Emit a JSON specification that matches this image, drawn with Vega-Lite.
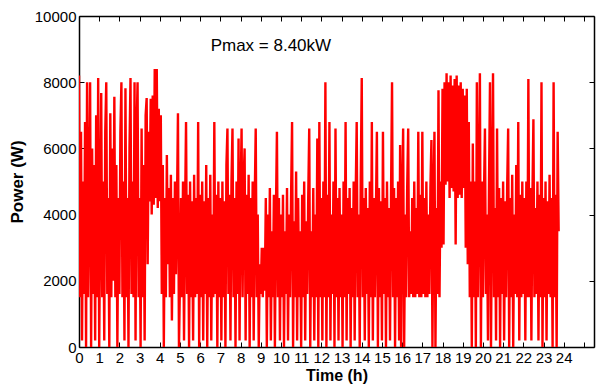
{
"$schema": "https://vega.github.io/schema/vega-lite/v6.json",
"autosize": "none",
"width": 515,
"height": 331,
"padding": {"left": 79, "top": 16, "right": 4, "bottom": 45},
"background": "white",
"config": {"view": {"stroke": null}, "axis": {"grid": false, "domainColor": "black", "domainWidth": 1.5, "tickColor": "black", "tickSize": -5, "tickWidth": 1, "labelFont": "Liberation Sans", "labelFontSize": 15, "labelColor": "black", "titleFont": "Liberation Sans", "titleFontSize": 16, "titleFontWeight": "bold", "titleColor": "black"}},
"datasets": {
"power": [
{"t":0.00,"p":8200},{"t":0.05,"p":1500},{"t":0.10,"p":6500},{"t":0.15,"p":200},{"t":0.20,"p":5000},{"t":0.25,"p":1600},{"t":0.30,"p":6800},{"t":0.35,"p":0},{"t":0.40,"p":8000},{"t":0.45,"p":1500},{"t":0.50,"p":4500},{"t":0.55,"p":8000},{"t":0.60,"p":0},{"t":0.65,"p":6000},{"t":0.70,"p":1600},{"t":0.75,"p":5500},{"t":0.80,"p":200},{"t":0.85,"p":7000},{"t":0.90,"p":1500},{"t":0.95,"p":8130},
{"t":1.00,"p":0},{"t":1.05,"p":4000},{"t":1.10,"p":7670},{"t":1.15,"p":1500},{"t":1.20,"p":5000},{"t":1.25,"p":200},{"t":1.30,"p":6500},{"t":1.35,"p":8000},{"t":1.40,"p":1600},{"t":1.45,"p":4500},{"t":1.50,"p":0},{"t":1.55,"p":7060},{"t":1.60,"p":1500},{"t":1.65,"p":6000},{"t":1.70,"p":2000},{"t":1.75,"p":7560},{"t":1.80,"p":1500},{"t":1.85,"p":5500},{"t":1.90,"p":0},{"t":1.95,"p":4500},
{"t":2.00,"p":1600},{"t":2.05,"p":6500},{"t":2.10,"p":8000},{"t":2.15,"p":1500},{"t":2.20,"p":5000},{"t":2.25,"p":200},{"t":2.30,"p":7820},{"t":2.35,"p":1500},{"t":2.40,"p":4500},{"t":2.45,"p":0},{"t":2.50,"p":6000},{"t":2.55,"p":8130},{"t":2.60,"p":1600},{"t":2.65,"p":5000},{"t":2.70,"p":1500},{"t":2.75,"p":8000},{"t":2.80,"p":200},{"t":2.85,"p":6500},{"t":2.90,"p":8000},{"t":2.95,"p":1500},
{"t":3.00,"p":4500},{"t":3.05,"p":0},{"t":3.10,"p":6600},{"t":3.15,"p":1500},{"t":3.20,"p":5500},{"t":3.25,"p":200},{"t":3.30,"p":7000},{"t":3.35,"p":7520},{"t":3.40,"p":2500},{"t":3.45,"p":6500},{"t":3.50,"p":4400},{"t":3.55,"p":7500},{"t":3.60,"p":4000},{"t":3.65,"p":7600},{"t":3.70,"p":4300},{"t":3.75,"p":8400},{"t":3.80,"p":4500},{"t":3.85,"p":8400},{"t":3.90,"p":4200},{"t":3.95,"p":7200},
{"t":4.00,"p":4400},{"t":4.05,"p":7000},{"t":4.10,"p":1600},{"t":4.15,"p":5500},{"t":4.20,"p":0},{"t":4.25,"p":4500},{"t":4.30,"p":1500},{"t":4.35,"p":5800},{"t":4.40,"p":2500},{"t":4.45,"p":4800},{"t":4.50,"p":1500},{"t":4.55,"p":5200},{"t":4.60,"p":800},{"t":4.65,"p":4500},{"t":4.70,"p":1600},{"t":4.75,"p":5000},{"t":4.80,"p":2200},{"t":4.85,"p":4200},{"t":4.90,"p":7060},{"t":4.95,"p":0},
{"t":5.00,"p":2000},{"t":5.05,"p":4500},{"t":5.10,"p":1500},{"t":5.15,"p":5000},{"t":5.20,"p":200},{"t":5.25,"p":4000},{"t":5.30,"p":6800},{"t":5.35,"p":1600},{"t":5.40,"p":4600},{"t":5.45,"p":0},{"t":5.50,"p":5000},{"t":5.55,"p":1500},{"t":5.60,"p":4400},{"t":5.65,"p":200},{"t":5.70,"p":5200},{"t":5.75,"p":1500},{"t":5.80,"p":4500},{"t":5.85,"p":1600},{"t":5.90,"p":6800},{"t":5.95,"p":0},
{"t":6.00,"p":4600},{"t":6.05,"p":1500},{"t":6.10,"p":5000},{"t":6.15,"p":200},{"t":6.20,"p":4400},{"t":6.25,"p":1600},{"t":6.30,"p":5500},{"t":6.35,"p":0},{"t":6.40,"p":4500},{"t":6.45,"p":1500},{"t":6.50,"p":5200},{"t":6.55,"p":200},{"t":6.60,"p":4000},{"t":6.65,"p":1500},{"t":6.70,"p":6800},{"t":6.75,"p":1600},{"t":6.80,"p":4600},{"t":6.85,"p":0},{"t":6.90,"p":5000},{"t":6.95,"p":1500},
{"t":7.00,"p":4500},{"t":7.05,"p":200},{"t":7.10,"p":5000},{"t":7.15,"p":1500},{"t":7.20,"p":4400},{"t":7.25,"p":0},{"t":7.30,"p":5500},{"t":7.35,"p":6600},{"t":7.40,"p":1600},{"t":7.45,"p":4600},{"t":7.50,"p":200},{"t":7.55,"p":5000},{"t":7.60,"p":6600},{"t":7.65,"p":1500},{"t":7.70,"p":4500},{"t":7.75,"p":0},{"t":7.80,"p":5000},{"t":7.85,"p":1600},{"t":7.90,"p":6300},{"t":7.95,"p":200},
{"t":8.00,"p":4500},{"t":8.05,"p":6600},{"t":8.10,"p":1500},{"t":8.15,"p":5000},{"t":8.20,"p":6000},{"t":8.25,"p":200},{"t":8.30,"p":4600},{"t":8.35,"p":1600},{"t":8.40,"p":5200},{"t":8.45,"p":0},{"t":8.50,"p":4500},{"t":8.55,"p":1500},{"t":8.60,"p":5000},{"t":8.65,"p":200},{"t":8.70,"p":4400},{"t":8.75,"p":6600},{"t":8.80,"p":1500},{"t":8.85,"p":4000},{"t":8.90,"p":0},{"t":8.95,"p":2500},
{"t":9.00,"p":1600},{"t":9.05,"p":3000},{"t":9.10,"p":1500},{"t":9.15,"p":3000},{"t":9.20,"p":1700},{"t":9.25,"p":4500},{"t":9.30,"p":0},{"t":9.35,"p":4000},{"t":9.40,"p":1500},{"t":9.45,"p":4800},{"t":9.50,"p":200},{"t":9.55,"p":3500},{"t":9.60,"p":1500},{"t":9.65,"p":4600},{"t":9.70,"p":0},{"t":9.75,"p":4000},{"t":9.80,"p":6500},{"t":9.85,"p":1500},{"t":9.90,"p":4500},{"t":9.95,"p":200},
{"t":10.00,"p":4000},{"t":10.05,"p":1500},{"t":10.10,"p":4600},{"t":10.15,"p":0},{"t":10.20,"p":3500},{"t":10.25,"p":1600},{"t":10.30,"p":4800},{"t":10.35,"p":200},{"t":10.40,"p":4000},{"t":10.45,"p":1500},{"t":10.50,"p":4500},{"t":10.55,"p":6800},{"t":10.60,"p":0},{"t":10.65,"p":3800},{"t":10.70,"p":1500},{"t":10.75,"p":5300},{"t":10.80,"p":200},{"t":10.85,"p":4500},{"t":10.90,"p":1500},{"t":10.95,"p":3500},
{"t":11.00,"p":0},{"t":11.05,"p":4600},{"t":11.10,"p":1500},{"t":11.15,"p":5000},{"t":11.20,"p":200},{"t":11.25,"p":3800},{"t":11.30,"p":1600},{"t":11.35,"p":4500},{"t":11.40,"p":6600},{"t":11.45,"p":0},{"t":11.50,"p":3500},{"t":11.55,"p":1500},{"t":11.60,"p":4800},{"t":11.65,"p":200},{"t":11.70,"p":4000},{"t":11.75,"p":1500},{"t":11.80,"p":6300},{"t":11.85,"p":0},{"t":11.90,"p":6800},{"t":11.95,"p":1500},
{"t":12.00,"p":4500},{"t":12.05,"p":200},{"t":12.10,"p":5000},{"t":12.15,"p":1500},{"t":12.20,"p":8000},{"t":12.25,"p":0},{"t":12.30,"p":4600},{"t":12.35,"p":1500},{"t":12.40,"p":6800},{"t":12.45,"p":200},{"t":12.50,"p":4000},{"t":12.55,"p":1600},{"t":12.60,"p":5000},{"t":12.65,"p":0},{"t":12.70,"p":6600},{"t":12.75,"p":1500},{"t":12.80,"p":4500},{"t":12.85,"p":200},{"t":12.90,"p":4800},{"t":12.95,"p":1500},
{"t":13.00,"p":4000},{"t":13.05,"p":0},{"t":13.10,"p":5000},{"t":13.15,"p":1500},{"t":13.20,"p":6800},{"t":13.25,"p":200},{"t":13.30,"p":4500},{"t":13.35,"p":1600},{"t":13.40,"p":4800},{"t":13.45,"p":0},{"t":13.50,"p":4200},{"t":13.55,"p":1500},{"t":13.60,"p":5000},{"t":13.65,"p":200},{"t":13.70,"p":4600},{"t":13.75,"p":6800},{"t":13.80,"p":1500},{"t":13.85,"p":4000},{"t":13.90,"p":0},{"t":13.95,"p":5000},
{"t":14.00,"p":8130},{"t":14.05,"p":1500},{"t":14.10,"p":4500},{"t":14.15,"p":200},{"t":14.20,"p":4800},{"t":14.25,"p":1600},{"t":14.30,"p":4200},{"t":14.35,"p":0},{"t":14.40,"p":5000},{"t":14.45,"p":1500},{"t":14.50,"p":6800},{"t":14.55,"p":200},{"t":14.60,"p":4500},{"t":14.65,"p":1500},{"t":14.70,"p":4000},{"t":14.75,"p":6500},{"t":14.80,"p":0},{"t":14.85,"p":4800},{"t":14.90,"p":1500},{"t":14.95,"p":4400},
{"t":15.00,"p":200},{"t":15.05,"p":6500},{"t":15.10,"p":1600},{"t":15.15,"p":4500},{"t":15.20,"p":0},{"t":15.25,"p":5000},{"t":15.30,"p":1500},{"t":15.35,"p":4200},{"t":15.40,"p":200},{"t":15.45,"p":4600},{"t":15.50,"p":8000},{"t":15.55,"p":1500},{"t":15.60,"p":4800},{"t":15.65,"p":0},{"t":15.70,"p":4500},{"t":15.75,"p":1500},{"t":15.80,"p":5000},{"t":15.85,"p":200},{"t":15.90,"p":6100},{"t":15.95,"p":0},
{"t":16.00,"p":4500},{"t":16.05,"p":6600},{"t":16.10,"p":0},{"t":16.15,"p":4000},{"t":16.20,"p":1500},{"t":16.25,"p":4800},{"t":16.30,"p":6600},{"t":16.35,"p":1500},{"t":16.40,"p":3500},{"t":16.45,"p":1600},{"t":16.50,"p":4500},{"t":16.55,"p":1500},{"t":16.60,"p":5000},{"t":16.65,"p":1500},{"t":16.70,"p":4200},{"t":16.75,"p":1600},{"t":16.80,"p":6500},{"t":16.85,"p":1500},{"t":16.90,"p":4600},{"t":16.95,"p":1500},
{"t":17.00,"p":6500},{"t":17.05,"p":1600},{"t":17.10,"p":4500},{"t":17.15,"p":1500},{"t":17.20,"p":5000},{"t":17.25,"p":1500},{"t":17.30,"p":4000},{"t":17.35,"p":1600},{"t":17.40,"p":4800},{"t":17.45,"p":6250},{"t":17.50,"p":0},{"t":17.55,"p":4500},{"t":17.60,"p":6500},{"t":17.65,"p":0},{"t":17.70,"p":4200},{"t":17.75,"p":1600},{"t":17.80,"p":7760},{"t":17.85,"p":1500},{"t":17.90,"p":5000},{"t":17.95,"p":3000},
{"t":18.00,"p":7800},{"t":18.05,"p":3100},{"t":18.10,"p":8000},{"t":18.15,"p":4900},{"t":18.20,"p":8270},{"t":18.25,"p":5000},{"t":18.30,"p":8000},{"t":18.35,"p":4500},{"t":18.40,"p":8200},{"t":18.45,"p":4800},{"t":18.50,"p":7900},{"t":18.55,"p":4700},{"t":18.60,"p":8100},{"t":18.65,"p":3100},{"t":18.70,"p":8200},{"t":18.75,"p":4500},{"t":18.80,"p":7900},{"t":18.85,"p":4600},{"t":18.90,"p":8000},{"t":18.95,"p":4500},
{"t":19.00,"p":7800},{"t":19.05,"p":4800},{"t":19.10,"p":7600},{"t":19.15,"p":3000},{"t":19.20,"p":7800},{"t":19.25,"p":2500},{"t":19.30,"p":6800},{"t":19.35,"p":1500},{"t":19.40,"p":5000},{"t":19.45,"p":0},{"t":19.50,"p":6150},{"t":19.55,"p":1500},{"t":19.60,"p":5000},{"t":19.65,"p":0},{"t":19.70,"p":8000},{"t":19.75,"p":1500},{"t":19.80,"p":4500},{"t":19.85,"p":8270},{"t":19.90,"p":0},{"t":19.95,"p":5000},
{"t":20.00,"p":1500},{"t":20.05,"p":4500},{"t":20.10,"p":6600},{"t":20.15,"p":1600},{"t":20.20,"p":4000},{"t":20.25,"p":200},{"t":20.30,"p":4800},{"t":20.35,"p":8000},{"t":20.40,"p":0},{"t":20.45,"p":4500},{"t":20.50,"p":8270},{"t":20.55,"p":1500},{"t":20.60,"p":4200},{"t":20.65,"p":200},{"t":20.70,"p":6600},{"t":20.75,"p":1500},{"t":20.80,"p":4800},{"t":20.85,"p":0},{"t":20.90,"p":4500},{"t":20.95,"p":1600},
{"t":21.00,"p":5000},{"t":21.05,"p":200},{"t":21.10,"p":4400},{"t":21.15,"p":1500},{"t":21.20,"p":4800},{"t":21.25,"p":6600},{"t":21.30,"p":0},{"t":21.35,"p":4500},{"t":21.40,"p":1500},{"t":21.45,"p":5200},{"t":21.50,"p":0},{"t":21.55,"p":4000},{"t":21.60,"p":1600},{"t":21.65,"p":5500},{"t":21.70,"p":1500},{"t":21.75,"p":6800},{"t":21.80,"p":200},{"t":21.85,"p":4600},{"t":21.90,"p":1500},{"t":21.95,"p":5000},
{"t":22.00,"p":1600},{"t":22.05,"p":4500},{"t":22.10,"p":200},{"t":22.15,"p":5000},{"t":22.20,"p":1500},{"t":22.25,"p":8100},{"t":22.30,"p":1500},{"t":22.35,"p":4800},{"t":22.40,"p":200},{"t":22.45,"p":4500},{"t":22.50,"p":6880},{"t":22.55,"p":1500},{"t":22.60,"p":4200},{"t":22.65,"p":1600},{"t":22.70,"p":5000},{"t":22.75,"p":200},{"t":22.80,"p":4600},{"t":22.85,"p":1500},{"t":22.90,"p":8000},{"t":22.95,"p":0},
{"t":23.00,"p":4500},{"t":23.05,"p":1500},{"t":23.10,"p":5000},{"t":23.15,"p":200},{"t":23.20,"p":4400},{"t":23.25,"p":1600},{"t":23.30,"p":5200},{"t":23.35,"p":1500},{"t":23.40,"p":4500},{"t":23.45,"p":0},{"t":23.50,"p":8000},{"t":23.55,"p":1500},{"t":23.60,"p":4600},{"t":23.65,"p":0},{"t":23.70,"p":6500},{"t":23.75,"p":3500}
],
"label": [{"t": 9.5, "p": 9100, "text": "Pmax = 8.40kW"}]
},
"layer": [
{"data": {"name": "power"},
 "mark": {"type": "line", "color": "#ff0000", "strokeWidth": 2.4, "clip": true},
 "encoding": {
  "x": {"field": "t", "type": "quantitative", "scale": {"domain": [0, 25.5], "nice": false, "zero": false},
        "axis": {"orient": "bottom", "title": "Time (h)", "values": [0,1,2,3,4,5,6,7,8,9,10,11,12,13,14,15,16,17,18,19,20,21,22,23,24,25], "labelExpr": "datum.value <= 24 ? datum.label : ''", "labelPadding": 8, "labelFlush": false, "labelOverlap": false, "titlePadding": 2}},
  "y": {"field": "p", "type": "quantitative", "scale": {"domain": [0, 10000], "nice": false},
        "axis": {"orient": "left", "title": "Power (W)", "format": "d", "values": [0,2000,4000,6000,8000,10000], "labelPadding": 8, "labelFlush": false, "titlePadding": 8, "titleFontSize": 17}}
 }},
{"data": {"name": "label"},
 "mark": {"type": "text", "font": "Liberation Sans", "fontSize": 17, "color": "black", "align": "center", "baseline": "middle"},
 "encoding": {
  "x": {"field": "t", "type": "quantitative", "axis": {"orient": "top", "title": null, "labels": false, "values": [0,1,2,3,4,5,6,7,8,9,10,11,12,13,14,15,16,17,18,19,20,21,22,23,24,25]}},
  "y": {"field": "p", "type": "quantitative", "axis": {"orient": "right", "title": null, "labels": false, "values": [0,2000,4000,6000,8000,10000]}},
  "text": {"field": "text"}
 }}
],
"resolve": {"axis": {"x": "independent", "y": "independent"}}
}
